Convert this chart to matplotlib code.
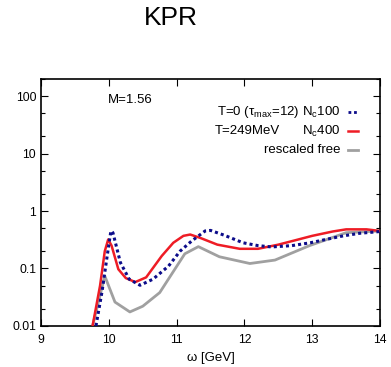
import matplotlib
matplotlib.use("Agg")
import matplotlib.pyplot as plt
from matplotlib.ticker import LogLocator, FixedLocator, NullFormatter

plt.rcParams['font.family'] = ['Liberation Sans', 'DejaVu Sans']
plt.rcParams['mathtext.fontset'] = 'custom'
plt.rcParams['mathtext.rm'] = 'Liberation Sans'
plt.rcParams['mathtext.it'] = 'Liberation Sans:italic'

# T=0 (tau_max=12), Nc100
omega_t0 = [9.81, 9.90, 9.97, 10.03, 10.06, 10.17, 10.30, 10.46, 10.65, 10.88,
            11.05, 11.22, 11.42, 11.50, 11.70, 11.98, 12.20, 12.40, 12.70, 12.97,
            13.20, 13.46, 13.70, 14.00]
rho_t0 = [0.01, 0.04, 0.15, 0.45, 0.42, 0.127, 0.065, 0.051, 0.065, 0.11,
          0.20, 0.30, 0.45, 0.46, 0.38, 0.28, 0.25, 0.237, 0.25, 0.28,
          0.32, 0.37, 0.41, 0.44]

# T=249MeV, Nc400
omega_t249 = [9.76, 9.87, 9.94, 9.99, 10.04, 10.14, 10.25, 10.39, 10.55, 10.78,
              10.95, 11.10, 11.20, 11.35, 11.60, 11.93, 12.20, 12.50, 12.75, 13.00,
              13.30, 13.50, 13.80, 14.00]
rho_t249 = [0.01, 0.05, 0.20, 0.32, 0.25, 0.097, 0.068, 0.058, 0.07, 0.165,
            0.28, 0.37, 0.39, 0.34, 0.26, 0.22, 0.22, 0.26, 0.31, 0.37,
            0.44, 0.48, 0.48, 0.45]

# rescaled free
omega_free = [9.76, 9.94, 10.09, 10.31, 10.50, 10.75, 11.12, 11.32, 11.63, 12.08,
              12.45, 12.96, 13.50, 14.00]
rho_free = [0.01, 0.074, 0.026, 0.0175, 0.022, 0.038, 0.18, 0.24, 0.16, 0.122,
            0.14, 0.25, 0.42, 0.45]

xticks = [9, 10, 11, 12, 13, 14]
yticks = [0.01, 0.1, 1, 10, 100]
ytick_labels = ['0.01', '0.1', '1', '10', '100']

fig = plt.figure(figsize=(3.91, 3.67), dpi=100)
ax = fig.add_axes([0.105, 0.112, 0.867, 0.673])

blue = '#0c0c8a'
red = '#ee1c25'
gray = '#a0a0a0'

ax.plot(omega_free, rho_free, color=gray, lw=2.0, zorder=2)
ax.plot(omega_t249, rho_t249, color=red, lw=1.8, zorder=3)
ax.plot(omega_t0, rho_t0, color=blue, lw=2.2, linestyle=(0, (1, 1)), zorder=4)

ax.set_yscale('log')
ax.set_xlim(9, 14)
ax.set_ylim(0.01, 200)
ax.set_xticks(xticks)
ax.set_xticklabels([str(t) for t in xticks])
ax.set_yticks(yticks)
ax.set_yticklabels(ytick_labels)
ax.yaxis.set_minor_locator(LogLocator(base=10, subs=(2.0, 5.0)))
ax.yaxis.set_minor_formatter(NullFormatter())
ax.xaxis.set_minor_locator(FixedLocator([]))

ax.tick_params(which='both', direction='in', top=True, right=True, labelsize=8.7)
ax.tick_params(which='major', length=5, width=0.8)
ax.tick_params(which='minor', length=3, width=0.8)
ax.tick_params(axis='x', pad=6)
for s in ax.spines.values():
    s.set_linewidth(1.2)

ax.set_xlabel('ω [GeV]', fontsize=9.5, labelpad=4)

# annotation and legend (drawn by hand like the original)
fs = 9.5
ax.text(0.198, 0.915, 'M=1.56', transform=ax.transAxes, fontsize=fs,
        ha='left', va='center')

rows = [0.866, 0.789, 0.712]
right = 0.882
ax.text(right, rows[0], r'T=0 (τ$_{\rm max}$=12) N$_{\rm c}$100',
        transform=ax.transAxes, fontsize=fs, ha='right', va='center')
ax.text(0.513, rows[1], 'T=249MeV', transform=ax.transAxes, fontsize=fs,
        ha='left', va='center')
ax.text(right, rows[1], r'N$_{\rm c}$400', transform=ax.transAxes,
        fontsize=fs, ha='right', va='center')
ax.text(right, rows[2], 'rescaled free', transform=ax.transAxes,
        fontsize=fs, ha='right', va='center')

xs = [0.906, 0.935]
ax.plot(xs, [rows[0]] * 2, transform=ax.transAxes, color=blue, lw=2.0,
        linestyle=(0, (1, 1)), clip_on=False)
ax.plot(xs, [rows[1]] * 2, transform=ax.transAxes, color=red, lw=1.8,
        clip_on=False)
ax.plot(xs, [rows[2]] * 2, transform=ax.transAxes, color=gray, lw=2.0,
        clip_on=False)

fig.text(0.437, 0.95, 'KPR', fontsize=19, ha='center', va='center')

fig.savefig('out.png', dpi=100)
